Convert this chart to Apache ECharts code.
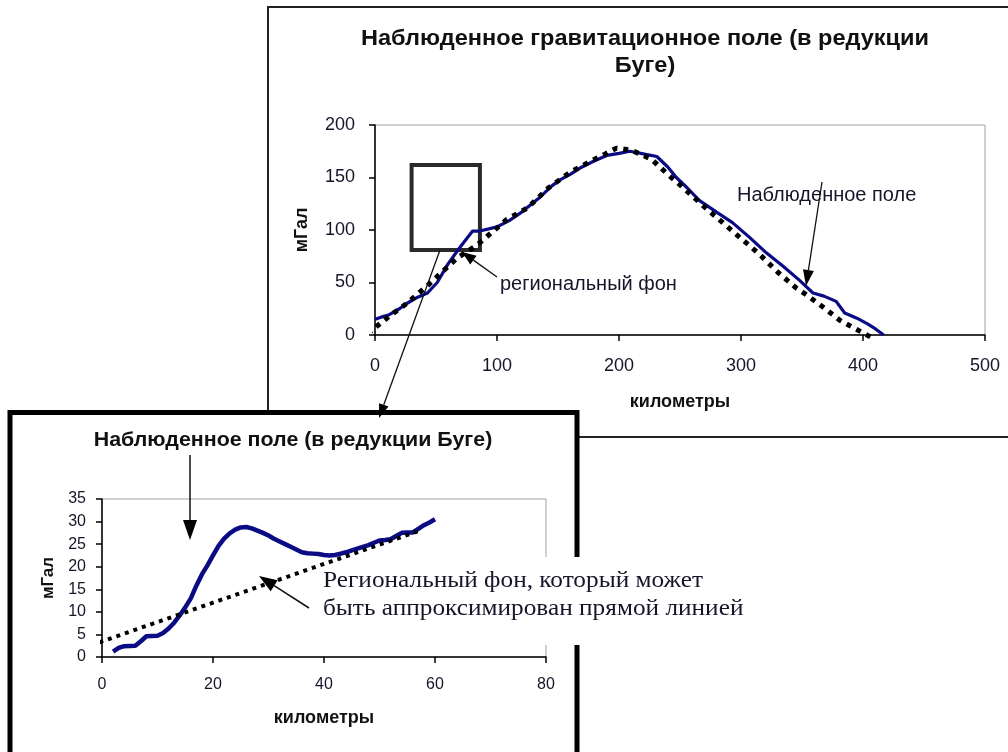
<!DOCTYPE html>
<html>
<head>
<meta charset="utf-8">
<script src="https://cdn.jsdelivr.net/npm/echarts@6/dist/echarts.min.js"></script>
<style>
html, body { margin: 0; padding: 0; background: #fff; }
#chart { width: 1008px; height: 752px; }
</style>
</head>
<body>
<div id="chart"></div>
<script>
// верхний профиль: км / мГал
const observedTop = [
    [0, 15], [5, 17], [11, 19], [20, 25], [26, 30], [35, 36], [43, 40], [51, 50],
    [60, 68], [70, 84], [80, 99], [86, 99], [100, 103], [110, 109], [119, 116],
    [135, 131], [145, 142], [152, 148], [160, 153], [168, 159], [180, 166],
    [190, 171], [200, 173], [209, 175], [222, 172], [231, 170], [240, 160],
    [247, 150], [256, 140], [266, 128], [280, 117], [293, 107], [307, 93],
    [321, 78], [335, 65], [348, 52], [359, 40], [368, 37], [378, 32], [385, 21],
    [395, 16], [403, 11], [410, 6], [417, 0]
];
const regionalTop = [
    [-6, 1], [0, 7], [13, 19], [26, 30], [43, 47], [55, 60], [67, 73], [84, 86],
    [93, 95], [108, 110], [125, 121], [142, 140], [160, 155], [176, 165],
    [188, 172], [198, 178], [210, 176], [218, 172], [227, 167], [240, 153],
    [250, 143], [270, 122], [299, 93], [315, 77], [330, 60], [345, 45], [354, 38],
    [368, 26], [381, 14], [392, 7], [400, 2], [408, -3]
];
// выделенный участок (км, мГал)
const boxKm = [30, 86];
const boxMgal = [81, 162];

// нижний профиль: км / мГал
const observedBottom = [
    [2, 1.2], [3, 2], [4, 2.4], [6, 2.5], [7, 3.5], [8, 4.6], [10, 4.7], [11, 5.3],
    [12, 6.3], [13, 7.6], [14, 9.2], [15, 11], [16, 13], [17, 15.8], [18, 18.3],
    [19, 20.3], [20, 22.5], [21, 24.6], [22, 26.2], [23, 27.4], [24, 28.2],
    [25, 28.7], [26, 28.8], [27, 28.5], [28, 28], [29, 27.5], [30, 26.9],
    [31, 26.2], [32, 25.6], [33, 25], [34, 24.4], [35, 23.8], [36, 23.2], [37, 23],
    [38, 22.9], [39, 22.8], [40, 22.6], [41, 22.5], [42, 22.6], [43, 22.9],
    [44, 23.2], [45, 23.6], [46, 24], [47, 24.4], [48, 24.8], [49, 25.3], [50, 25.8],
    [51, 25.9], [52, 26.1], [53, 26.8], [54, 27.5], [55, 27.6], [56, 27.6],
    [57, 28.4], [58, 29.2], [59, 29.8], [60, 30.5]
];
const regionalBottom = [[-2, 2.6], [57, 27.9]];

const SANS = 'Liberation Sans, Arial, sans-serif';
const SERIF = 'Liberation Serif, Times New Roman, serif';
const BLUE = '#0b0b86';

// стрелка: линия + треугольник
function arrow(x1, y1, x2, y2, head, w, lw) {
    const a = Math.atan2(y2 - y1, x2 - x1);
    const bx = x2 - head * Math.cos(a), by = y2 - head * Math.sin(a);
    const nx = -Math.sin(a) * w / 2, ny = Math.cos(a) * w / 2;
    return [
        { type: 'line', z: 20, shape: { x1: x1, y1: y1, x2: bx, y2: by }, style: { stroke: '#111', lineWidth: lw } },
        { type: 'polygon', z: 20, shape: { points: [[x2, y2], [bx + nx, by + ny], [bx - nx, by - ny]] }, style: { fill: '#000' } }
    ];
}

function axisPair(min, max, step, fs, margin) {
    return {
        type: 'value', min: min, max: max, interval: step,
        axisLine: { show: true, lineStyle: { color: '#000', width: 1.5 } },
        axisTick: { show: true, length: 6, lineStyle: { color: '#000', width: 1.5 } },
        axisLabel: { color: '#15152a', fontFamily: SANS, fontSize: fs, margin: margin },
        splitLine: { show: false }
    };
}

const chart = echarts.init(document.getElementById('chart'));

const option = {
    animation: false,
    backgroundColor: '#fff',
    grid: [
        { left: 375, right: 23, top: 125, bottom: 417, show: true, borderColor: '#a0a0a0', borderWidth: 1 },
        { left: 102, right: 462, top: 499, bottom: 95, show: true, borderColor: '#a0a0a0', borderWidth: 1 }
    ],
    xAxis: [
        Object.assign(axisPair(0, 500, 100, 18, 22), {
            gridIndex: 0, name: 'километры', nameLocation: 'middle', nameGap: 58,
            nameTextStyle: { fontFamily: SANS, fontSize: 18, fontWeight: 'bold', color: '#111' }
        }),
        Object.assign(axisPair(0, 80, 20, 16, 20), {
            gridIndex: 1, name: 'километры', nameLocation: 'middle', nameGap: 52,
            nameTextStyle: { fontFamily: SANS, fontSize: 18, fontWeight: 'bold', color: '#111' }
        })
    ],
    yAxis: [
        Object.assign(axisPair(0, 200, 50, 18, 20), {
            gridIndex: 0, name: 'мГал', nameLocation: 'middle', nameGap: 64, nameRotate: 90,
            nameTextStyle: { fontFamily: SANS, fontSize: 18, fontWeight: 'bold', color: '#111' }
        }),
        Object.assign(axisPair(0, 35, 5, 16, 16), {
            gridIndex: 1, name: 'мГал', nameLocation: 'middle', nameGap: 45, nameRotate: 90,
            nameTextStyle: { fontFamily: SANS, fontSize: 17, fontWeight: 'bold', color: '#111' }
        })
    ],
    series: [
        {
            name: 'Наблюденное поле', type: 'line', xAxisIndex: 0, yAxisIndex: 0,
            data: observedTop, showSymbol: false, clip: false,
            lineStyle: { color: BLUE, width: 3.2 },
            markArea: {
                silent: true,
                itemStyle: { color: 'rgba(0,0,0,0)', borderColor: '#2a2a2a', borderWidth: 4 },
                data: [[{ coord: [boxKm[0], boxMgal[1]] }, { coord: [boxKm[1], boxMgal[0]] }]]
            }
        },
        {
            name: 'региональный фон', type: 'line', xAxisIndex: 0, yAxisIndex: 0,
            data: regionalTop, showSymbol: false, clip: false,
            lineStyle: { color: '#000', width: 5, type: [5, 6] }
        },
        {
            name: 'Наблюденное поле (детально)', type: 'line', xAxisIndex: 1, yAxisIndex: 1,
            data: observedBottom, showSymbol: false, clip: false,
            lineStyle: { color: BLUE, width: 4.5 }
        },
        {
            name: 'Региональный фон (прямая)', type: 'line', xAxisIndex: 1, yAxisIndex: 1,
            data: regionalBottom, showSymbol: false, clip: false,
            lineStyle: { color: '#000', width: 4, type: [4, 5] }
        }
    ],
    graphic: [
        // рамка верхнего графика
        { type: 'rect', z: -20, shape: { x: 268, y: 7, width: 800, height: 430 }, style: { fill: '#fff', stroke: '#222', lineWidth: 2 } },
        // рамка нижнего графика
        { type: 'rect', z: -10, shape: { x: 10, y: 412.5, width: 567, height: 400 }, style: { fill: '#fff', stroke: '#000', lineWidth: 5 } },
        // белая подложка под подписью
        { type: 'rect', z: 5, shape: { x: 520, y: 557, width: 240, height: 88 }, style: { fill: '#fff' } },
        {
            type: 'text', z: 20, x: 645, y: 52, scaleX: 1.07,
            style: {
                text: 'Наблюденное гравитационное поле (в редукции\nБуге)',
                font: 'bold 22px ' + SANS, fill: '#111', align: 'center', verticalAlign: 'middle', lineHeight: 27
            }
        },
        {
            type: 'text', z: 20, x: 293, y: 440, scaleX: 1.07,
            style: { text: 'Наблюденное поле (в редукции Буге)', font: 'bold 20px ' + SANS, fill: '#111', align: 'center', verticalAlign: 'middle' }
        },
        {
            type: 'text', z: 20, x: 500, y: 284,
            style: { text: 'региональный фон', font: '20px ' + SANS, fill: '#15152a', verticalAlign: 'middle' }
        },
        {
            type: 'text', z: 20, x: 737, y: 195,
            style: { text: 'Наблюденное поле', font: '20px ' + SANS, fill: '#15152a', verticalAlign: 'middle' }
        },
        {
            type: 'text', z: 20, x: 323, y: 595, scaleX: 1.1,
            style: {
                text: 'Региональный фон, который может\nбыть аппроксимирован прямой линией',
                font: '23px ' + SERIF, fill: '#15152a', verticalAlign: 'middle', lineHeight: 28
            }
        }
    ]
        .concat(arrow(440, 250, 379, 418, 14, 10, 1.3))
        .concat(arrow(497, 277, 462, 252, 14, 11, 1.3))
        .concat(arrow(822, 182, 806, 286, 16, 11, 1.3))
        .concat(arrow(190, 455, 190, 540, 20, 14, 1.5))
        .concat(arrow(309, 608, 259, 576, 18, 13, 1.5))
};

chart.setOption(option);
</script>
</body>
</html>
